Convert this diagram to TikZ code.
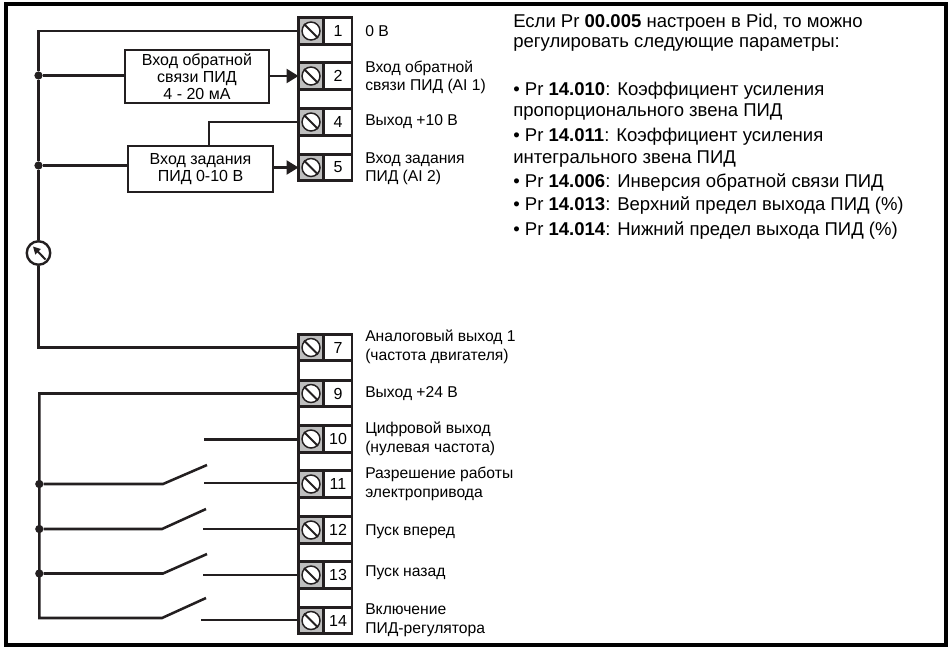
\documentclass[tikz,border=0pt]{standalone}
\usepackage{fontspec}
\setmainfont{Liberation Sans}
\usetikzlibrary{arrows.meta,positioning}
\definecolor{screwgray}{RGB}{190,190,190}
\definecolor{wirecol}{RGB}{35,31,32}
\tikzset{
  wire/.style={draw=wirecol,line width=1.9pt},
  screwcell/.style={draw=wirecol,line width=1.9pt,fill=screwgray,minimum width=25*0.75pt,minimum height=26.5*0.75pt,inner sep=0pt,outer sep=0pt},
  numcell/.style={draw=wirecol,line width=1.9pt,fill=white,minimum width=28*0.75pt,minimum height=26.5*0.75pt,inner sep=0pt,outer sep=0pt,font=\fontsize{12}{14}\selectfont},
  screw/.style={circle,draw=wirecol,line width=1.1pt,fill=white,minimum size=18*0.75pt,inner sep=0pt},
  funcbox/.style={draw=wirecol,line width=1.9pt,fill=white,align=center,inner sep=0pt,font=\fontsize{12}{12.6}\selectfont},
  junction/.style={circle,fill=wirecol,minimum size=6.2pt,inner sep=0pt},
  termlabel/.style={anchor=west,align=left,inner sep=0pt,font=\fontsize{11.75}{13.9}\selectfont},
  note/.style={anchor=west,inner sep=0pt,font=\fontsize{13.9}{15.75}\selectfont}
}
\begin{document}
\begin{tikzpicture}[x=0.75pt,y=-0.75pt]
    \useasboundingbox (0,0) rectangle (950,647);
    % Outer frame
    \draw[line width=3pt,black] (6,4) rectangle (946,645);
    % Terminal strips
    \draw[wire] (298.5,18) rectangle (352,181);
    \draw[wire] (298.5,334) rectangle (352,634);
    \foreach \n/\y in {1/31,2/76,4/122,5/167.5,7/347.5,9/393.5,10/439,11/484,12/530,13/575,14/620.5} {
      \node[screwcell] (t\n) at (311,\y) {};
      \node[numcell] (l\n) at (338,\y) {\n};
      \node[screw] (c\n) at (t\n) {};
      \draw[line width=1.5pt,wirecol] (c\n.north west) -- (c\n.south east);
    }
    % Left side blocks
    \node[funcbox,minimum width=144*0.75pt,minimum height=53*0.75pt] (fbbox) at (197,76.5) {Вход обратной\\связи ПИД\\4 - 20 мА};
    \node[funcbox,minimum width=145*0.75pt,minimum height=46*0.75pt] (refbox) at (200.5,169) {Вход задания\\ПИД 0-10 В};
    \node[junction] (j1) at (38.5,75.5) {};
    \node[junction] (j2) at (38.5,165.5) {};
    \node[circle,draw=wirecol,line width=1.8pt,fill=white,minimum size=23.5*0.75pt,inner sep=0pt] (meter) at (38.5,253) {};
    % Analog wires
    \draw[wire] (t1.west) -| (j1);
    \draw[wire] (j1) -- (j2) -- (meter);
    \draw[wire] (meter) |- (t7.west);
    \draw[wire] (j1) -- (j1 -| fbbox.west);
    \draw[wire] (j2) -- (j2 -| refbox.west);
    \draw[wire,-{Triangle[length=9pt,width=10.5pt]}] (fbbox.east |- t2) -- (t2.west);
    \draw[wire,-{Triangle[length=9pt,width=10.5pt]}] (refbox.east |- t5) -- (t5.west);
    \coordinate (refin) at (209,146);
    \draw[wire] (t4.west) -| (refin);
    % Meter pointer
    \draw[line width=1.5pt,wirecol,-{Triangle[length=5.5pt,width=5.5pt]}] (45.5,259.5) -- (33,246.5);
    % Digital wires
    \node[junction] (j11) at (39.3,484) {};
    \node[junction] (j12) at (39.3,529) {};
    \node[junction] (j13) at (39.3,573.5) {};
    \coordinate (s10) at (204,439.5);
    \coordinate (s11) at (204,483);
    \coordinate (s12) at (203,529);
    \coordinate (s13) at (203,575);
    \coordinate (s14) at (201,620);
    \draw[wire] (t9.west) -| (39.3,618) -- (162,618) -- (206,598);
    \draw[wire] (j11) -- (163,484) -- (207,465);
    \draw[wire] (j12) -- (162,529) -- (206,509);
    \draw[wire] (j13) -- (163,573.5) -- (207,554);
    \foreach \n in {10,...,14} {
      \draw[wire] (s\n) -- (s\n -| t\n.west);
    }
    % Terminal labels
    \node[termlabel] at (365,31) {0 В};
    \node[termlabel] at (365,77.5) {Вход обратной\\связи ПИД (AI 1)};
    \node[termlabel] at (365,122) {Выход +10 В};
    \node[termlabel] at (365,168.5) {Вход задания\\ПИД (AI 2)};
    \node[termlabel] at (365,347) {Аналоговый выход 1\\(частота двигателя)};
    \node[termlabel] at (365,394) {Выход +24 В};
    \node[termlabel] at (365,439) {Цифровой выход\\(нулевая частота)};
    \node[termlabel] at (365,484) {Разрешение работы\\электропривода};
    \node[termlabel] at (365,532) {Пуск вперед};
    \node[termlabel] at (365,573) {Пуск назад};
    \node[termlabel] at (365,620) {Включение\\ПИД-регулятора};
    % Parameter note
    \node[note] at (513,23) {Если Pr \textbf{00.005} настроен в Pid, то можно};
    \node[note] at (513,44) {регулировать следующие параметры:};
    \node[note] at (513,91) {• Pr \textbf{14.010}: Коэффициент усиления};
    \node[note] at (513,112) {пропорционального звена ПИД};
    \node[note] at (513,137) {• Pr \textbf{14.011}: Коэффициент усиления};
    \node[note] at (513,159) {интегрального звена ПИД};
    \node[note] at (513,183) {• Pr \textbf{14.006}: Инверсия обратной связи ПИД};
    \node[note] at (513,206) {• Pr \textbf{14.013}: Верхний предел выхода ПИД (\%)};
    \node[note] at (513,231) {• Pr \textbf{14.014}: Нижний предел выхода ПИД (\%)};
  \end{tikzpicture}
\end{document}
